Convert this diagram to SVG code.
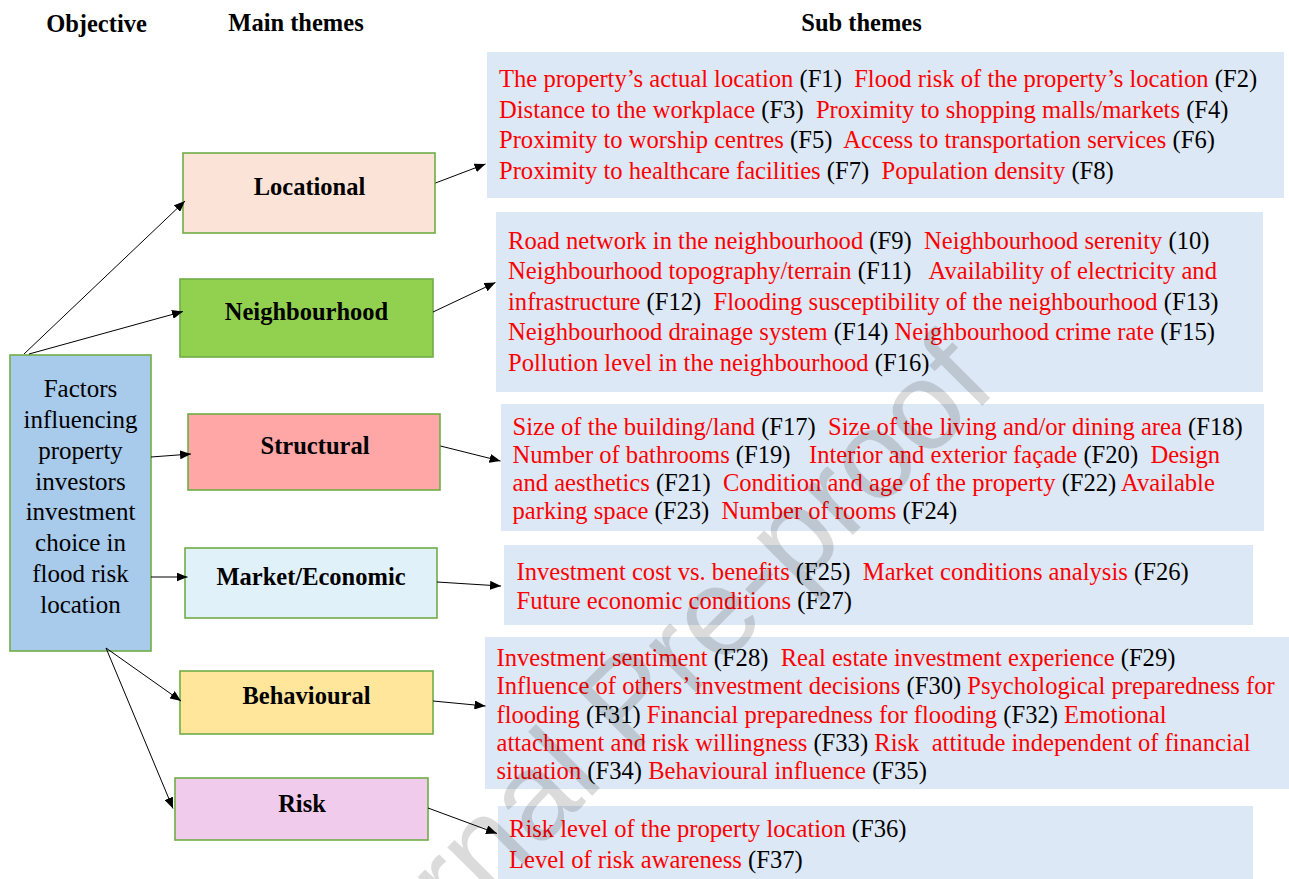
<svg xmlns="http://www.w3.org/2000/svg" width="1289" height="879" viewBox="0 0 1289 879">
  <style>
    .hdr { font-family: "Liberation Serif", "Times New Roman", serif; font-weight: bold; font-size: 24.5px; fill: #000; text-anchor: middle; }
    .lbl { font-family: "Liberation Serif", "Times New Roman", serif; font-weight: bold; font-size: 24.5px; fill: #000; text-anchor: middle; }
    .obj { font-family: "Liberation Serif", "Times New Roman", serif; font-size: 25px; fill: #000; text-anchor: middle; }
    .sub { font-family: "Liberation Serif", "Times New Roman", serif; font-size: 24.6px; fill: #000; white-space: pre; }
    .r { fill: #ff0000; }
    .theme { stroke: #70ad47; stroke-width: 1.6; }
    .panel { fill: #dce8f5; }
    .conn line { stroke: #000; stroke-width: 1; fill: none; marker-end: url(#arrow); }
    .wm { font-family: "Liberation Sans", Arial, sans-serif; font-size: 125px; fill: #000; fill-opacity: 0.14; }
  </style>
  <defs>
    <marker id="arrow" markerWidth="11" markerHeight="9" refX="11" refY="4.5" orient="auto" markerUnits="userSpaceOnUse">
      <path d="M0,0 L11,4.5 L0,9 z" fill="#000"/>
    </marker>
  </defs>

  <rect width="1289" height="879" fill="#fff"/>

  <!-- column headings -->
  <g id="headings">
    <text class="hdr" x="96.5" y="32">Objective</text>
    <text class="hdr" x="296" y="31">Main themes</text>
    <text class="hdr" x="861.5" y="31">Sub themes</text>
  </g>

  <!-- objective -->
  <g id="objective">
    <rect class="theme" x="10" y="355" width="141" height="296" fill="#a8caeb"/>
    <text class="obj" x="80.5" y="397">Factors</text>
    <text class="obj" x="80.5" y="428">influencing</text>
    <text class="obj" x="80.5" y="458.5">property</text>
    <text class="obj" x="80.5" y="489.5">investors</text>
    <text class="obj" x="80.5" y="520">investment</text>
    <text class="obj" x="80.5" y="551">choice in</text>
    <text class="obj" x="80.5" y="582">flood risk</text>
    <text class="obj" x="80.5" y="613">location</text>
  </g>

  <!-- main themes -->
  <g id="locational">
    <rect class="theme" x="183" y="153" width="252" height="80" fill="#fbe4d7"/>
    <text class="lbl" x="309.5" y="195">Locational</text>
  </g>
  <g id="neighbourhood">
    <rect class="theme" x="180" y="279" width="253" height="78" fill="#92d050"/>
    <text class="lbl" x="306.5" y="320">Neighbourhood</text>
  </g>
  <g id="structural">
    <rect class="theme" x="188" y="414" width="252" height="76" fill="#ffa6a6"/>
    <text class="lbl" x="315" y="454">Structural</text>
  </g>
  <g id="market">
    <rect class="theme" x="185" y="548" width="252" height="70" fill="#e1f1fa"/>
    <text class="lbl" x="311" y="585">Market/Economic</text>
  </g>
  <g id="behavioural">
    <rect class="theme" x="180" y="671" width="253" height="63" fill="#ffe69b"/>
    <text class="lbl" x="306.5" y="704">Behavioural</text>
  </g>
  <g id="risk">
    <rect class="theme" x="175" y="778" width="253" height="62" fill="#f0cbec"/>
    <text class="lbl" x="302" y="811.5">Risk</text>
  </g>

  <!-- sub theme panels -->
  <g id="sub-locational">
    <rect class="panel" x="487" y="52" width="797" height="146"/>
    <text class="sub" x="499" y="87"><tspan class="r">The property’s actual location</tspan> (F1)  <tspan class="r">Flood risk of the property’s location</tspan> (F2)</text>
    <text class="sub" x="499" y="117.5"><tspan class="r">Distance to the workplace</tspan> (F3)  <tspan class="r">Proximity to shopping malls/markets</tspan> (F4)</text>
    <text class="sub" x="499" y="148"><tspan class="r">Proximity to worship centres</tspan> (F5)  <tspan class="r">Access to transportation services</tspan> (F6)</text>
    <text class="sub" x="499" y="178.5"><tspan class="r">Proximity to healthcare facilities</tspan> (F7)  <tspan class="r">Population density</tspan> (F8)</text>
  </g>
  <g id="sub-neighbourhood">
    <rect class="panel" x="496" y="212" width="767" height="180"/>
    <text class="sub" x="508" y="248.5"><tspan class="r">Road network in the neighbourhood</tspan> (F9)  <tspan class="r">Neighbourhood serenity</tspan> (10)</text>
    <text class="sub" x="508" y="279"><tspan class="r">Neighbourhood topography/terrain</tspan> (F11)   <tspan class="r">Availability of electricity and</tspan></text>
    <text class="sub" x="508" y="309.5"><tspan class="r">infrastructure</tspan> (F12)  <tspan class="r">Flooding susceptibility of the neighbourhood</tspan> (F13)</text>
    <text class="sub" x="508" y="340"><tspan class="r">Neighbourhood drainage system</tspan> (F14) <tspan class="r">Neighbourhood crime rate</tspan> (F15)</text>
    <text class="sub" x="508" y="370.5"><tspan class="r">Pollution level in the neighbourhood</tspan> (F16)</text>
  </g>
  <g id="sub-structural">
    <rect class="panel" x="501" y="404" width="763" height="127"/>
    <text class="sub" x="512.5" y="434.5"><tspan class="r">Size of the building/land</tspan> (F17)  <tspan class="r">Size of the living and/or dining area</tspan> (F18)</text>
    <text class="sub" x="512.5" y="462.5"><tspan class="r">Number of bathrooms</tspan> (F19)   <tspan class="r">Interior and exterior façade</tspan> (F20)  <tspan class="r">Design</tspan></text>
    <text class="sub" x="512.5" y="490.5"><tspan class="r">and aesthetics</tspan> (F21)  <tspan class="r">Condition and age of the property</tspan> (F22) <tspan class="r">Available</tspan></text>
    <text class="sub" x="512.5" y="518.5"><tspan class="r">parking space</tspan> (F23)  <tspan class="r">Number of rooms</tspan> (F24)</text>
  </g>
  <g id="sub-market">
    <rect class="panel" x="504" y="545" width="749" height="80"/>
    <text class="sub" x="516.5" y="580"><tspan class="r">Investment cost vs. benefits</tspan> (F25)  <tspan class="r">Market conditions analysis</tspan> (F26)</text>
    <text class="sub" x="516.5" y="608.5"><tspan class="r">Future economic conditions</tspan> (F27)</text>
  </g>
  <g id="sub-behavioural">
    <rect class="panel" x="485" y="637" width="804" height="152"/>
    <text class="sub" x="496.5" y="665.5"><tspan class="r">Investment sentiment</tspan> (F28)  <tspan class="r">Real estate investment experience</tspan> (F29)</text>
    <text class="sub" x="496.5" y="694"><tspan class="r">Influence of others’ investment decisions</tspan> (F30) <tspan class="r">Psychological preparedness for</tspan></text>
    <text class="sub" x="496.5" y="722.5"><tspan class="r">flooding</tspan> (F31) <tspan class="r">Financial preparedness for flooding</tspan> (F32) <tspan class="r">Emotional</tspan></text>
    <text class="sub" x="496.5" y="750.5"><tspan class="r">attachment and risk willingness</tspan> (F33) <tspan class="r">Risk  attitude independent of financial</tspan></text>
    <text class="sub" x="496.5" y="779"><tspan class="r">situation</tspan> (F34) <tspan class="r">Behavioural influence</tspan> (F35)</text>
  </g>
  <g id="sub-risk">
    <rect class="panel" x="498" y="806" width="755" height="80"/>
    <text class="sub" x="509" y="837"><tspan class="r">Risk level of the property location</tspan> (F36)</text>
    <text class="sub" x="509" y="868"><tspan class="r">Level of risk awareness</tspan> (F37)</text>
  </g>

  <!-- connectors -->
  <g id="connectors" class="conn">
    <line x1="24" y1="354" x2="185" y2="201"/>
    <line x1="29" y1="354" x2="183" y2="311.5"/>
    <line x1="151" y1="457" x2="191" y2="454"/>
    <line x1="151" y1="577" x2="187.5" y2="577"/>
    <line x1="106" y1="648" x2="181" y2="701"/>
    <line x1="106" y1="648" x2="173" y2="808.5"/>
    <line x1="435.5" y1="183" x2="485.5" y2="164"/>
    <line x1="433" y1="312" x2="495.5" y2="282.5"/>
    <line x1="440.5" y1="446" x2="500.5" y2="461"/>
    <line x1="437" y1="582" x2="501" y2="586"/>
    <line x1="433" y1="701" x2="485.5" y2="706"/>
    <line x1="428" y1="808" x2="497" y2="833.5"/>
  </g>

  <!-- watermark -->
  <text class="wm" transform="translate(999 389) rotate(-45)" text-anchor="end">Journal Pre-proof</text>
</svg>
